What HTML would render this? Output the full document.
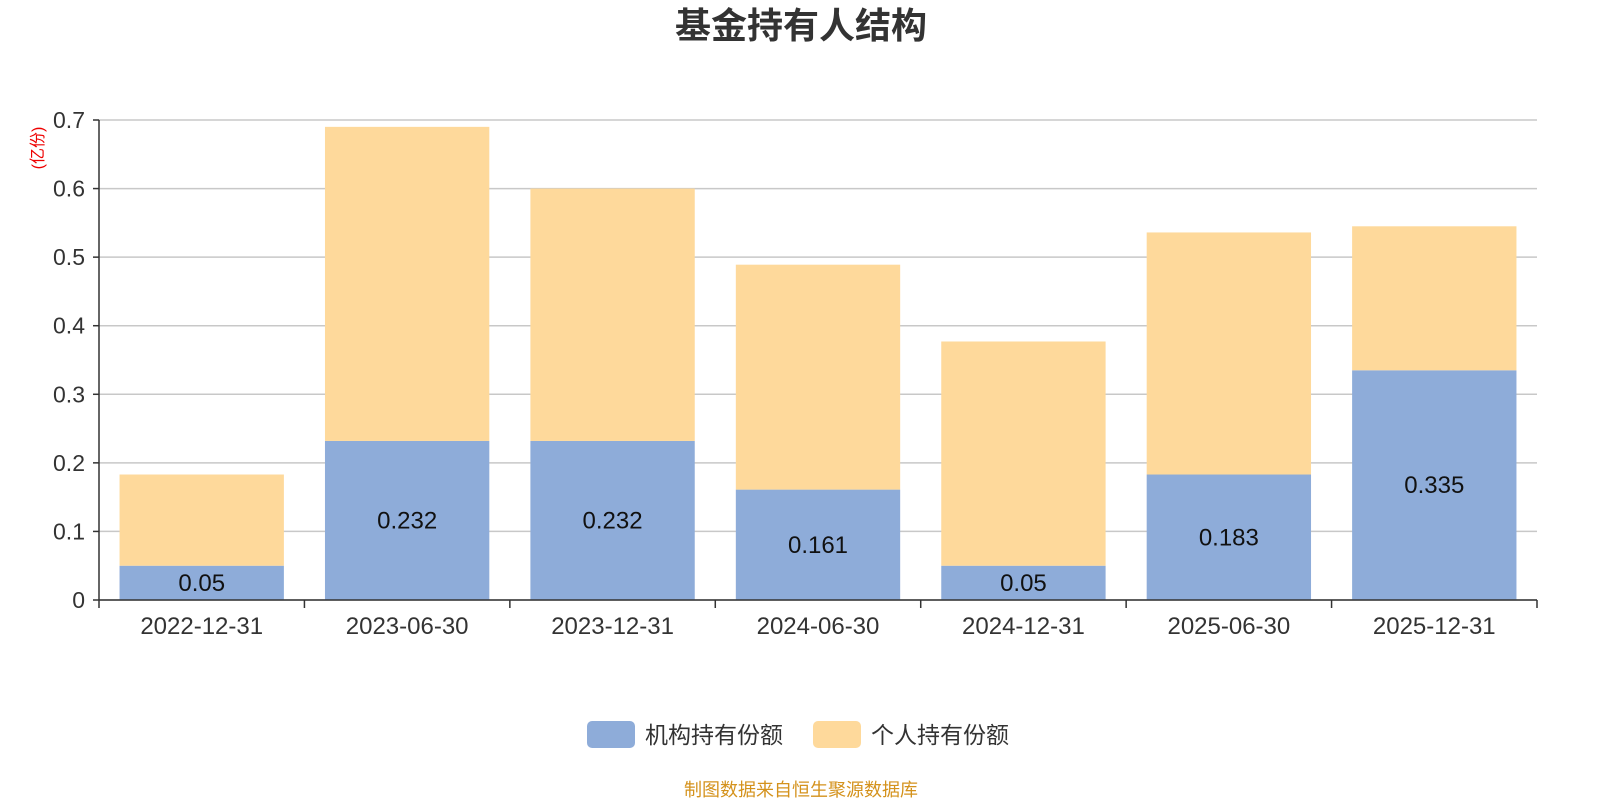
<!DOCTYPE html>
<html><head><meta charset="utf-8"><style>
body{margin:0;background:#fff;width:1600px;height:800px;overflow:hidden;font-family:"Liberation Sans","Noto Sans CJK SC",sans-serif}
</style></head><body>
<svg id="c" width="1600" height="800" xmlns="http://www.w3.org/2000/svg" font-family="Liberation Sans, Noto Sans CJK SC, sans-serif">
<text x="801" y="38" text-anchor="middle" font-size="36" font-weight="bold" fill="#333">基金持有人结构</text>
<text transform="translate(43,148) rotate(-90)" text-anchor="middle" font-size="16" fill="#e00">(亿份)</text>
<g id="grid"></g><g id="bars"></g><g id="axes"></g>
<g>
<rect x="587" y="721" width="48" height="27" rx="5" fill="#8eacd9"/>
<text x="645" y="743" font-size="23" fill="#333">机构持有份额</text>
<rect x="813" y="721" width="48" height="27" rx="5" fill="#fed99b"/>
<text x="871" y="743" font-size="23" fill="#333">个人持有份额</text>
</g>
<text x="801" y="796" text-anchor="middle" font-size="18" fill="#d4921c">制图数据来自恒生聚源数据库</text>
</svg>
<script>
const categories=["2022-12-31","2023-06-30","2023-12-31","2024-06-30","2024-12-31","2025-06-30","2025-12-31"];
const institution=[0.05,0.232,0.232,0.161,0.05,0.183,0.335];
const individual=[0.133,0.458,0.368,0.328,0.327,0.353,0.210];
const yTicks=[0,0.1,0.2,0.3,0.4,0.5,0.6,0.7];
const NS="http://www.w3.org/2000/svg";
const x0=99,x1=1537,y0=600,yTop=120,yMax=0.7;
const bw=(x1-x0)/categories.length;
const y=v=>y0-(v/yMax)*(y0-yTop);
function mk(t,a,p){const e=document.createElementNS(NS,t);for(const k in a)e.setAttribute(k,a[k]);p.appendChild(e);return e;}
const grid=document.getElementById('grid'),bars=document.getElementById('bars'),axes=document.getElementById('axes');
yTicks.forEach(t=>{
  const l=mk('line',{x1:x0,x2:x1,y1:y(t),y2:y(t),stroke:'#c8c8c8','stroke-width':1.5},grid);
  
  
  const tk=mk('line',{x1:x0-6,x2:x0,y1:y(t),y2:y(t),stroke:'#333','stroke-width':1.5},axes);
  
  
  const tx=mk('text',{x:x0-14,y:y(t)+8,'text-anchor':'end','font-size':23,fill:'#333'},axes);
  tx.textContent=String(t);
  
  
});
categories.forEach((c,i)=>{
  const bx=x0+i*bw+bw*0.1,w=bw*0.8;
  const a=institution[i],b=individual[i];
  const r1=mk('rect',{x:bx,y:y(a),width:w,height:y0-y(a),fill:'#8eacd9'},bars);
  
  
  const r2=mk('rect',{x:bx,y:y(a+b),width:w,height:y(a)-y(a+b),fill:'#fed99b'},bars);
  
  
  const lb=mk('text',{x:bx+w/2,y:(y(a)+y0)/2+8,'text-anchor':'middle','font-size':24,fill:'#111'},bars);
  lb.textContent=String(a);
  
  
  const xt=mk('text',{x:x0+i*bw+bw/2,y:634,'text-anchor':'middle','font-size':24,fill:'#333'},axes);
  xt.textContent=c;
  
  
});
for(let i=0;i<=categories.length;i++){
  const t=mk('line',{x1:x0+i*bw,x2:x0+i*bw,y1:y0,y2:y0+8,stroke:'#333','stroke-width':1.5},axes);
  
  
}
const xa=mk('line',{x1:x0,x2:x1,y1:y0,y2:y0,stroke:'#333','stroke-width':1.5},axes);


const ya=mk('line',{x1:x0,x2:x0,y1:yTop,y2:y0,stroke:'#333','stroke-width':1.5},axes);


</script>
</body></html>
